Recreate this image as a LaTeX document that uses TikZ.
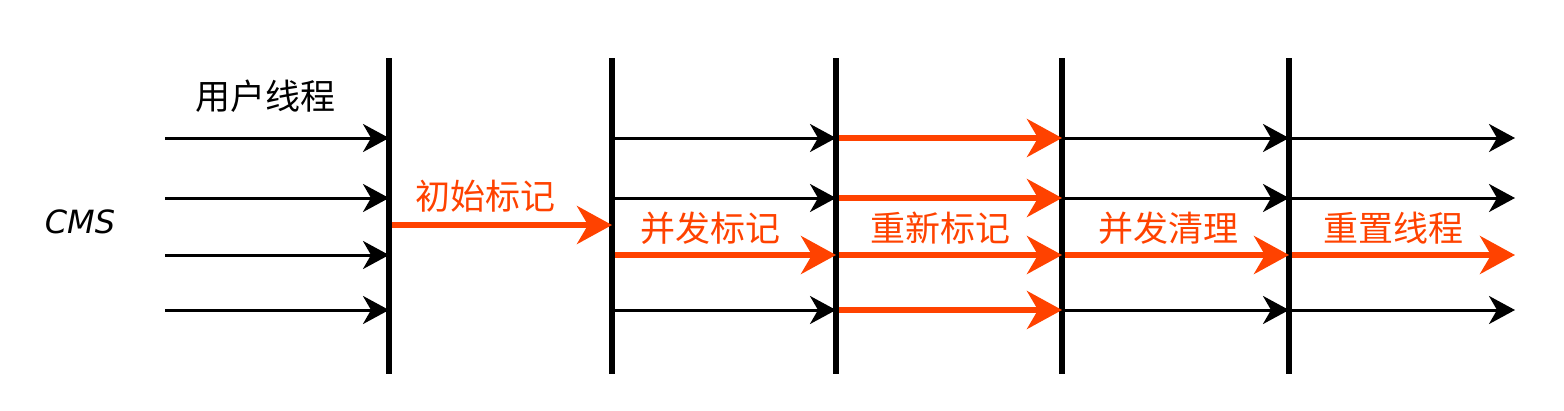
\documentclass[tikz,border=0pt]{standalone}
\usepackage{fontspec}
\newfontfamily\cjk{Noto Sans CJK SC}
\newfontfamily\cmsfont{DejaVu Sans}
\usetikzlibrary{arrows.meta}
\definecolor{redorange}{RGB}{255,66,0}
\tikzset{
  bar/.style={line width=5.5pt, black},
  blk/.style={line width=3pt, black, -{Stealth[length=26pt,width=28pt,inset=8pt]}},
  red/.style={line width=5.5pt, redorange, -{Stealth[length=35pt,width=38pt,inset=11pt]}},
  lbl/.style={font=\cjk\fontsize{35}{40}\selectfont, inner sep=0pt},
}
\begin{document}
\begin{tikzpicture}[x=1pt,y=-1pt]
\useasboundingbox (0,0) rectangle (1564,410);
% bars
\foreach \i/\x in {1/389,2/612,3/836,4/1062,5/1289}{
  \coordinate (t\i) at (\x,58);
  \coordinate (b\i) at (\x,374);
  \draw[bar] (t\i) -- (b\i);
  \foreach \r/\y in {a/138,b/198,c/255,d/310,m/225}{
    \coordinate (p\i\r) at (\x,\y);
  }
}
\foreach \r/\y in {a/138,b/198,c/255,d/310}{
  \coordinate (s\r) at (165,\y);
  \coordinate (e\r) at (1515,\y);
}
% user threads into bar 1
\foreach \r in {a,b,c,d}{ \draw[blk] (s\r) -- (p1\r); }
% initial mark
\draw[red] ([xshift=2.5pt]p1m) -- (p2m);
% bar2 -> bar3
\foreach \r in {a,b,d}{ \draw[blk] ([xshift=2.5pt]p2\r) -- (p3\r); }
\draw[red] ([xshift=2.5pt]p2c) -- (p3c);
% bar3 -> bar4 all red
\foreach \r in {a,b,c,d}{ \draw[red] ([xshift=2.5pt]p3\r) -- (p4\r); }
% bar4 -> bar5
\foreach \r in {a,b,d}{ \draw[blk] ([xshift=2.5pt]p4\r) -- (p5\r); }
\draw[red] ([xshift=2.5pt]p4c) -- (p5c);
% bar5 -> end
\foreach \r in {a,b,d}{ \draw[blk] ([xshift=2.5pt]p5\r) -- (e\r); }
\draw[red] ([xshift=2.5pt]p5c) -- (ec);
% labels
\node[lbl] (l0) at (265,96) {用户线程};
\node[lbl, text=redorange] (l1) at (485,196) {初始标记};
\node[lbl, text=redorange] (l2) at (710,228) {并发标记};
\node[lbl, text=redorange] (l3) at (940,228) {重新标记};
\node[lbl, text=redorange] (l4) at (1168,228) {并发清理};
\node[lbl, text=redorange] (l5) at (1393,228) {重置线程};
\node[font=\cmsfont\fontsize{32}{36}\selectfont\itshape, inner sep=0pt] (cms) at (80,222) {CMS};
\end{tikzpicture}
\end{document}
